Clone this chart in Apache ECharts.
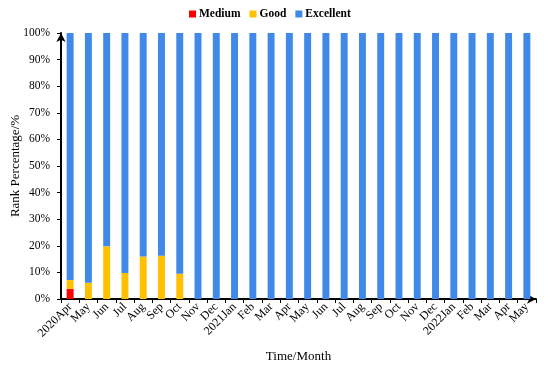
<!DOCTYPE html>
<html><head><meta charset="utf-8">
<script src="https://cdn.jsdelivr.net/npm/echarts@6/dist/echarts.min.js"></script>
<style>html,body{margin:0;padding:0;background:#fff}#c{width:550px;height:368px}</style>
</head><body><div id="c"></div>
<script>
const categories = ['2020Apr','May','Jun','Jul','Aug','Sep','Oct','Nov','Dec','2021Jan','Feb','Mar','Apr','May','Jun','Jul','Aug','Sep','Oct','Nov','Dec','2022Jan','Feb','Mar','Apr','May'];
const medium = [3.8,0,0,0,0,0,0,0,0,0,0,0,0,0,0,0,0,0,0,0,0,0,0,0,0,0];
const good = [3.3,6.1,19.8,9.8,16.0,16.3,9.5,0,0,0,0,0,0,0,0,0,0,0,0,0,0,0,0,0,0,0];
const excellent = [92.9,93.9,80.2,90.2,84.0,83.7,90.5,100,100,100,100,100,100,100,100,100,100,100,100,100,100,100,100,100,100,100];
const yTicks = [0,10,20,30,40,50,60,70,80,90,100];
const yName = 'Rank Percentage/%';

const font = 'Liberation Serif';
const chart = echarts.init(document.getElementById('c'));
chart.setOption({
  animation: false,
  textStyle: {fontFamily: font},
  legend: {
    top: 3, left: 184, itemWidth: 7, itemHeight: 7, itemGap: 9,
    icon: 'rect',
    textStyle: {fontFamily: font, fontWeight: 'bold', fontSize: 11.5, color: '#000', padding: [0,0,0,-2]},
    data: ['Medium','Good','Excellent']
  },
  graphic: [{
    type: 'text', x: 16, y: 166, rotation: Math.PI / 2,
    style: {text: yName, font: '13px "Liberation Serif"', fill: '#000', align: 'center', verticalAlign: 'middle'}
  }],
  grid: {left: 61, right: 14, top: 33, bottom: 69, outerBoundsMode: 'none', containLabel: false},
  xAxis: {
    type: 'category', data: categories,
    name: 'Time/Month', nameLocation: 'middle', nameGap: 51,
    nameTextStyle: {fontFamily: font, fontSize: 13, color: '#000'},
    axisLine: {lineStyle: {color: '#000', width: 2}, symbol: ['none','arrow'], symbolSize: [7,9]},
    axisTick: {show: true, lineStyle: {color: '#000'}, length: 4},
    axisLabel: {rotate: 45, fontFamily: font, fontSize: 12, color: '#000', interval: 0, margin: 6}
  },
  yAxis: {
    type: 'value', min: 0, max: 100, interval: 10,
    axisLine: {show: true, lineStyle: {color: '#000', width: 2}, symbol: ['none','arrow'], symbolSize: [7,9]},
    axisTick: {show: true, lineStyle: {color: '#000'}, length: 4},
    splitLine: {show: false},
    axisLabel: {fontFamily: font, fontSize: 11.5, color: '#000', margin: 11,
      formatter: v => yTicks.includes(v) ? v + '%' : ''}
  },
  series: [
    {name: 'Medium', type: 'bar', stack: 's', data: medium, barWidth: '38%', itemStyle: {color: '#ff0000'}},
    {name: 'Good', type: 'bar', stack: 's', data: good, barWidth: '38%', itemStyle: {color: '#ffc000'}},
    {name: 'Excellent', type: 'bar', stack: 's', data: excellent, barWidth: '38%', itemStyle: {color: '#4189e8'}}
  ]
});
</script></body></html>
